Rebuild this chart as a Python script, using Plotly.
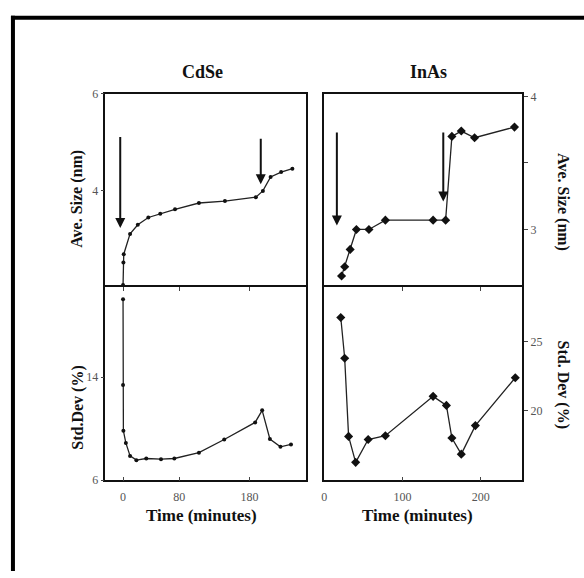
import plotly.graph_objects as go

# ---- data ----
cdse_t_size = [0, 0.5, 1, 10, 21, 36, 53, 74, 108, 145, 189, 199, 210, 225, 241]
cdse_size = [2.04, 2.51, 2.68, 3.10, 3.29, 3.44, 3.52, 3.61, 3.74, 3.78, 3.86, 3.99, 4.28, 4.38, 4.45]
cdse_t_sd = [0, 0, 0.5, 4, 10, 19, 33, 54, 73, 108, 144, 188, 198, 209, 224, 239]
cdse_sd = [20.06, 13.4, 9.84, 8.9, 7.89, 7.56, 7.69, 7.64, 7.69, 8.14, 9.16, 10.49, 11.43, 9.2, 8.6, 8.78]

inas_t_size = [22, 26, 33, 41, 57, 78, 139, 155, 163, 175, 192, 243]
inas_size = [2.65, 2.72, 2.85, 3.0, 3.0, 3.07, 3.07, 3.07, 3.70, 3.74, 3.69, 3.77]
inas_t_sd = [21, 26, 31, 40, 56, 78, 139, 156, 163, 175, 193, 244]
inas_sd = [26.79, 23.81, 18.09, 16.19, 17.86, 18.14, 21.02, 20.36, 17.97, 16.79, 18.88, 22.38]

# injection arrows: time, start value, tip value
cdse_arrow_t = [-4, 196]
cdse_arrow_from = [5.14, 5.10]
cdse_arrow_to = [3.22, 4.13]
inas_arrow_t = [16, 152]
inas_arrow_from = [3.74, 3.74]
inas_arrow_to = [3.03, 3.21]

cdse_xticks = [0, 80, 180]
inas_xticks = [0, 100, 200]

SERIF = "Liberation Serif"
W, H = 584, 578

def px(x):
    return x / W

def py(y):
    return 1 - y / H

fig = go.Figure()

line_c = dict(color="#222", width=1.3)
fig.add_trace(go.Scatter(x=cdse_t_size, y=cdse_size, mode="lines+markers",
                         line=line_c, marker=dict(size=4, color="#111"),
                         xaxis="x", yaxis="y", showlegend=False))
fig.add_trace(go.Scatter(x=cdse_t_sd, y=cdse_sd, mode="lines+markers",
                         line=line_c, marker=dict(size=4, color="#111"),
                         xaxis="x2", yaxis="y2", showlegend=False))
fig.add_trace(go.Scatter(x=inas_t_size, y=inas_size, mode="lines+markers",
                         line=line_c, marker=dict(size=7, color="#111", symbol="diamond"),
                         xaxis="x3", yaxis="y3", showlegend=False))
fig.add_trace(go.Scatter(x=inas_t_sd, y=inas_sd, mode="lines+markers",
                         line=line_c, marker=dict(size=7, color="#111", symbol="diamond"),
                         xaxis="x4", yaxis="y4", showlegend=False))

dom_cx = [px(103), px(305)]
dom_ix = [px(323), px(522)]
dom_top = [py(287), py(89)]
dom_bot = [py(485), py(287)]

ax_line = dict(showline=True, linecolor="#111", linewidth=1.5, showgrid=False,
               zeroline=False, mirror=True)
tickfont = dict(family=SERIF, size=12, color="#555")

fig.update_layout(
    width=W, height=H, margin=dict(l=0, r=0, t=0, b=0),
    paper_bgcolor="white", plot_bgcolor="white",
    xaxis=dict(domain=dom_cx, anchor="y", side="top", range=[-25, 261], showticklabels=False,
               ticks="", **{**ax_line, "mirror": False}),
    yaxis=dict(domain=dom_top, anchor="x", range=[2, 6], tickvals=[4, 6],
               ticks="outside", ticklen=3, tickfont=tickfont, **ax_line),
    xaxis2=dict(domain=dom_cx, anchor="y2", range=[-25, 261], tickvals=cdse_xticks,
                ticks="inside", ticklen=4, tickfont=tickfont, ticklabelstandoff=5,
                **{**ax_line, "mirror": "ticks"}),
    yaxis2=dict(domain=dom_bot, anchor="x2", range=[6, 21], tickvals=[6, 14],
                ticks="outside", ticklen=3, tickfont=tickfont, **ax_line),
    xaxis3=dict(domain=dom_ix, anchor="y3", side="top", range=[0, 253], showticklabels=False,
                ticks="", **{**ax_line, "mirror": False}),
    yaxis3=dict(domain=dom_top, anchor="x3", side="right", range=[2.567, 4.02],
                tickvals=[3, 3.5, 4], ticktext=["3", "", "4"],
                ticks="outside", ticklen=4, tickfont=tickfont, **ax_line),
    xaxis4=dict(domain=dom_ix, anchor="y4", range=[0, 253], tickvals=inas_xticks,
                ticks="inside", ticklen=4, tickfont=tickfont, ticklabelstandoff=5,
                **{**ax_line, "mirror": "ticks"}),
    yaxis4=dict(domain=dom_bot, anchor="x4", side="right", range=[14.88, 29.02],
                tickvals=[20, 25], ticks="outside", ticklen=4, tickfont=tickfont,
                **ax_line),
)

anns = []
for t, a0, a1 in zip(cdse_arrow_t, cdse_arrow_from, cdse_arrow_to):
    anns.append(dict(x=t, y=a1, ax=t, ay=a0, xref="x", yref="y", axref="x", ayref="y",
                     showarrow=True, arrowhead=2, arrowsize=1, arrowwidth=2,
                     arrowcolor="#111", text=""))
for t, a0, a1 in zip(inas_arrow_t, inas_arrow_from, inas_arrow_to):
    anns.append(dict(x=t, y=a1, ax=t, ay=a0, xref="x3", yref="y3", axref="x3", ayref="y3",
                     showarrow=True, arrowhead=2, arrowsize=1, arrowwidth=2,
                     arrowcolor="#111", text=""))

titlefont = dict(family=SERIF, size=18, color="#111")
labfont = dict(family=SERIF, size=16, color="#111")
timefont = dict(family=SERIF, size=17, color="#111")

def text_ann(txt, x, y, font, angle=0):
    return dict(text=f"<b>{txt}</b>", x=px(x), y=py(y), xref="paper", yref="paper",
                showarrow=False, font=font, textangle=angle,
                xanchor="center", yanchor="middle")

anns += [
    text_ann("CdSe", 201, 67, titlefont),
    text_ann("InAs", 428, 67, titlefont),
    text_ann("Ave. Size (nm)", 75, 197, labfont, -90),
    text_ann("Std.Dev (%)", 75, 411, labfont, -90),
    text_ann("Ave. Size (nm)", 563, 200, labfont, 90),
    text_ann("Std. Dev (%)", 563, 387, labfont, 90),
    text_ann("Time (minutes)", 200, 521, timefont),
    text_ann("Time (minutes)", 417, 521, timefont),
]
fig.update_layout(annotations=anns)

# black frame on left and top
fig.update_layout(shapes=[
    dict(type="line", xref="paper", yref="paper", x0=px(10), x1=px(10),
         y0=0, y1=py(9), line=dict(color="black", width=4)),
    dict(type="line", xref="paper", yref="paper", x0=px(8), x1=1,
         y0=py(11), y1=py(11), line=dict(color="black", width=4)),
])

fig.write_html("out.html")
